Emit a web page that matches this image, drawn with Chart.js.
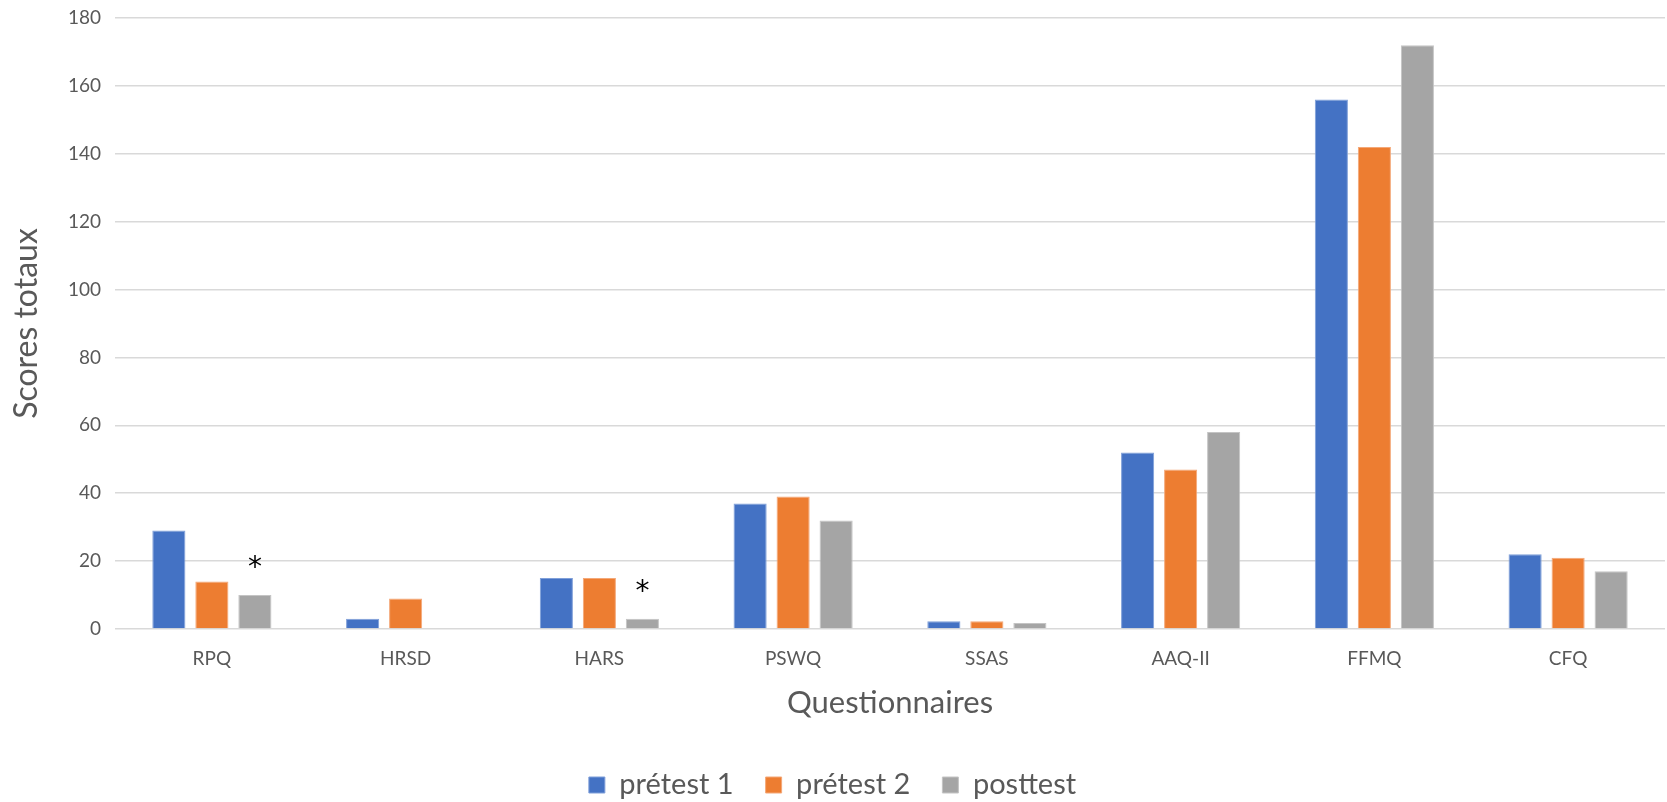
<!DOCTYPE html>
<html>
<head>
<meta charset="utf-8">
<script src="https://cdn.jsdelivr.net/npm/chart.js@4"></script>
<style>
  html, body { margin: 0; padding: 0; background: #ffffff; }
  #wrap { width: 1667px; height: 802px; }
</style>
</head>
<body>
<div id="wrap"><canvas id="chart" width="1667" height="802"></canvas></div>
<script>
// Questionnaire totals at each measurement time
const categories = ['RPQ', 'HRSD', 'HARS', 'PSWQ', 'SSAS', 'AAQ-II', 'FFMQ', 'CFQ'];
const pretest1 = [29, 3, 15, 37, 2.3, 52, 156, 22];
const pretest2 = [14, 9, 15, 39, 2.3, 47, 142, 21];
const posttest = [10, 0, 3, 32, 1.8, 58, 172, 17];
// significance markers shown above the posttest bars
const posttestMarks = ['*', '', '*', '', '', '', '', ''];
const seriesNames = ['prétest 1', 'prétest 2', 'posttest'];
const yTicks = [0, 20, 40, 60, 80, 100, 120, 140, 160, 180];

const FONT = 'Lato, "Open Sans", "Liberation Sans", sans-serif';
const TEXT = '#595959';
const LEGEND_HEIGHT = 63.5;

// asterisks above the flagged posttest bars
const markPlugin = {
  id: 'markPlugin',
  afterDatasetsDraw(chart) {
    const meta = chart.getDatasetMeta(2);
    const ctx = chart.ctx;
    ctx.save();
    ctx.fillStyle = '#000000';
    ctx.font = '28px "DejaVu Sans", sans-serif';
    ctx.textAlign = 'center';
    ctx.textBaseline = 'alphabetic';
    posttestMarks.forEach((m, i) => {
      if (!m) return;
      const bar = meta.data[i];
      ctx.fillText(m, bar.x, bar.y - 19);
    });
    ctx.restore();
  }
};

// keep the legend band compact while leaving wide gaps between its items
const legendBand = {
  id: 'legendBand',
  afterInit(chart) {
    const legend = chart.legend;
    if (!legend || legend._bandPatched) return;
    const fit = legend.fit.bind(legend);
    legend.fit = function () {
      fit();
      this.height = LEGEND_HEIGHT;
      this.minSize && (this.minSize.height = LEGEND_HEIGHT);
    };
    legend._bandPatched = true;
  }
};

new Chart(document.getElementById('chart'), {
  type: 'bar',
  data: {
    labels: categories,
    datasets: [
      { label: seriesNames[0], data: pretest1, backgroundColor: '#4472C4', borderColor: '#7f9fd9', borderWidth: 1 },
      { label: seriesNames[1], data: pretest2, backgroundColor: '#ED7D31', borderColor: '#f4a878', borderWidth: 1 },
      { label: seriesNames[2], data: posttest, backgroundColor: '#A5A5A5', borderColor: '#c4c4c4', borderWidth: 1 }
    ]
  },
  options: {
    responsive: false,
    animation: false,
    devicePixelRatio: 1,
    layout: { padding: { top: 18, right: 2, left: 0, bottom: 0 } },
    datasets: { bar: { categoryPercentage: 0.666, barPercentage: 0.77 } },
    plugins: {
      tooltip: { enabled: false },
      legend: {
        position: 'bottom',
        labels: {
          color: TEXT,
          font: { family: FONT, size: 29 },
          boxWidth: 16,
          boxHeight: 16,
          padding: 32
        }
      }
    },
    scales: {
      x: {
        afterFit(scale) { scale.height = 109.5; },
        grid: { display: false, drawTicks: false },
        border: { display: false },
        ticks: { color: TEXT, font: { family: FONT, size: 19 }, padding: 18 },
        title: {
          display: true,
          text: 'Questionnaires',
          color: TEXT,
          font: { family: FONT, size: 31 },
          padding: { top: 0, bottom: 16.9 }
        }
      },
      y: {
        min: 0,
        max: 180,
        afterBuildTicks(scale) { scale.ticks = yTicks.map(v => ({ value: v })); },
        afterFit(scale) {
          scale.width = 115;
          scale.paddingTop = 0;
          scale.paddingBottom = 0;
        },
        grid: { color: '#d9d9d9', lineWidth: 1.5, drawTicks: false },
        border: { display: false },
        ticks: { color: TEXT, font: { family: FONT, size: 19 }, padding: 14 },
        title: {
          display: true,
          text: 'Scores totaux',
          color: TEXT,
          font: { family: FONT, size: 32 },
          padding: { top: 7.8, bottom: 0 }
        }
      }
    }
  },
  plugins: [markPlugin, legendBand]
});
</script>
</body>
</html>
